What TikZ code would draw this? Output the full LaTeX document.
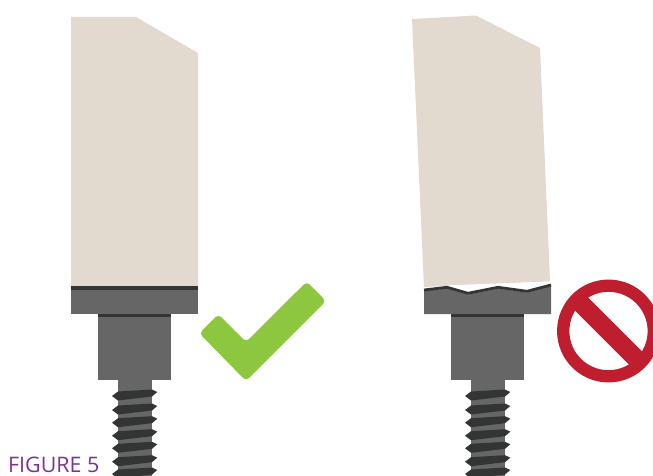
\documentclass[tikz,border=0pt]{standalone}
\usepackage{fontspec}
\setmainfont{Open Sans}
\definecolor{bonetan}{RGB}{226,217,207}
\definecolor{metalgray}{RGB}{102,102,102}
\definecolor{threaddark}{RGB}{51,53,52}
\definecolor{okgreen}{RGB}{141,198,63}
\definecolor{stopred}{RGB}{190,30,45}
\definecolor{figpurple}{RGB}{127,50,148}

\begin{document}
\begin{tikzpicture}[
    x=1pt, y=-1pt,
    bone/.style={fill=bonetan},
    metal/.style={fill=metalgray},
    dark/.style={fill=threaddark}
]
    \useasboundingbox (0,0) rectangle (653,476);
    \clip (0,0) rectangle (653,476);
    % good crown
    \fill[bone] (71,17) -- (136,17) -- (198,53) -- (198,286) -- (71,286) -- cycle;
    \fill[metal] (71,288) rectangle (198,314);
    \fill[dark] (71,286) rectangle (198,290);
    % broken crown
    \fill[bone] (412,19) -- (476,15.5) -- (540,48) -- (550,281.5) -- (424,287) -- cycle;
    \fill[metal] (424,291) -- (447,288.5) -- (468,294.5) -- (498,288.5) -- (527,292.5) -- (551,286) -- (551,314) -- (424,314) -- cycle;
    \fill[white] (447,285.6) -- (468,291.6) -- (498,285.4) -- (527,289.6) -- (551,283.4) -- (551,281.4) -- (447,285.4) -- cycle;
    \draw[threaddark, line width=2.8pt] (424,290) -- (447,287.3) -- (468,293.3) -- (498,287.3) -- (527,291.3) -- (551,285);
    % abutment and screw
    \foreach \dx in {0,353} {
        \begin{scope}[xshift=\dx pt]
            \fill[metal] (98,314) rectangle (171,380);
            \fill[dark] (98,314) rectangle (171,317);
            \fill[metal] (118,380) rectangle (152,476);
            \foreach \ty in {396,410,422.7,435.7,448.3,461.7,474} {
                \fill[dark] (112,\ty) -- (118,\ty-4.5) -- (152,\ty-6.5) -- (157.3,\ty-4) -- (152,\ty+0.5) -- (118,\ty+4.5) -- cycle;
            }
        \end{scope}
    }
    % check mark
    \fill[okgreen, rounded corners=4pt] (199.3,333.3) -- (218.3,314.3) -- (246,342) -- (306.7,281.6) -- (326,301) -- (246,381) -- cycle;
    % stop sign
    \draw[stopred, line width=12.3pt] (608.5,331) circle[radius=45.3];
    \draw[stopred, line width=18.4pt] (608.5,331) ++(-33,-33) -- ++(66,66);
    \node[anchor=base west, inner sep=0pt, text=figpurple, font=\fontsize{21.4}{24}\selectfont] (figlabel) at (8,472) {FIGURE 5};
\end{tikzpicture}
\end{document}
